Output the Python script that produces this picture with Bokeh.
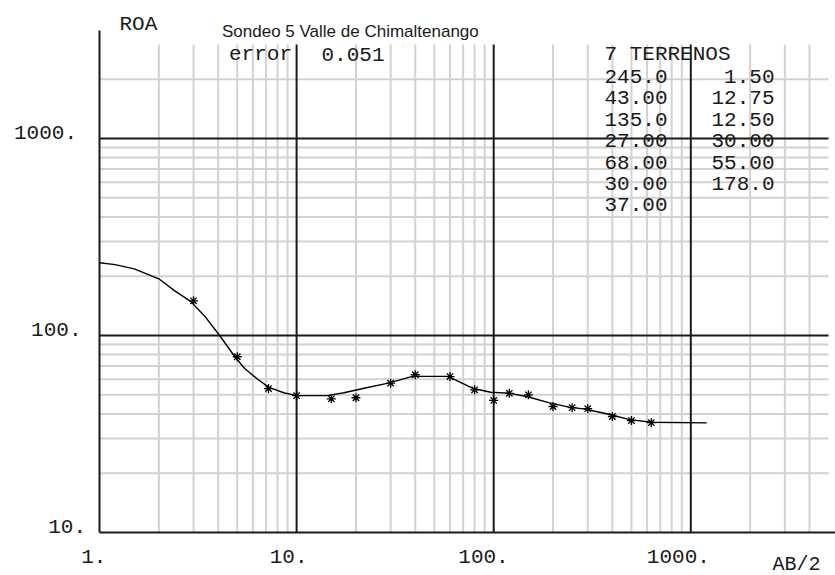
import numpy as np
from bokeh.plotting import figure
from bokeh.models import Range1d, Label
from bokeh.embed import file_html
from bokeh.resources import INLINE

# ---------------- data ----------------
title_text = "Sondeo 5 Valle de Chimaltenango"
x_label = "AB/2"
y_label = "ROA"
error_label = "error"
error_value = "0.051"
layers_title = "7 TERRENOS"
layer_rho = ["245.0", "43.00", "135.0", "27.00", "68.00", "30.00", "37.00"]
layer_thk = ["1.50", "12.75", "12.50", "30.00", "55.00", "178.0"]

x_ticks = [1, 10, 100, 1000]
x_tick_labels = ["1.", "10.", "100.", "1000."]
y_ticks = [10, 100, 1000]
y_tick_labels = ["10.", "100.", "1000."]

# measured apparent resistivity (stars)
obs_ab2 = [3, 5, 7.2, 10, 15, 20, 30, 40, 60, 80, 100, 120, 150, 200, 250, 300, 400, 500, 630]
obs_roa = [150, 78, 53.8, 49.5, 47.7, 48.3, 57.3, 63.2, 61.9, 53, 46.8, 50.9, 50, 43.6, 43, 42.5, 38.8, 37, 36.1]

# model curve
model_ab2 = [1.0, 1.2, 1.5, 2.0, 2.4, 2.9, 3.45, 4.07, 4.86, 5.45, 6.3, 7.2, 8.6, 10, 14.3, 17.4,
             22, 29.2, 38.7, 58.6, 78, 96.6, 119, 147, 192, 241, 291, 336, 393, 483, 627, 1205]
model_roa = [234, 229, 218, 194, 169, 149, 124, 100, 78, 68, 60.3, 54.7, 51.2, 49.5, 49.5, 51.2,
             54, 57.3, 62, 62, 54, 51.5, 51, 49, 45.5, 43.3, 42.3, 41, 39.6, 37.5, 36.3, 36]

# ---------------- layout ----------------
W, H = 835, 575
AX_LEFT, AX_BOTTOM, AX_TOP = 99, 532, 30      # pixel position of the drawn axes
DEC_X, DEC_Y = 197.1, 197.0                     # pixels per decade
# the frame covers the whole canvas so that every text lies inside it
X0 = 10 ** ((0 - AX_LEFT) / DEC_X)
X1 = 10 ** ((W - AX_LEFT) / DEC_X)
Y0 = 10 ** (1 + (AX_BOTTOM - H) / DEC_Y)
Y1 = 10 ** (1 + (AX_BOTTOM - 0) / DEC_Y)
AXIS_XMIN, AXIS_YMIN = 1.0, 10.0
AXIS_YMAX = 10 ** (1 + (AX_BOTTOM - AX_TOP) / DEC_Y)
GRID_XMAX = 5000
GRID_YMAX = 3000

def px2x(px):
    return 10 ** ((px - AX_LEFT) / DEC_X)

def py2y(py):
    return 10 ** (1 + (AX_BOTTOM - py) / DEC_Y)

p = figure(width=W, height=H, x_axis_type="log", y_axis_type="log",
           x_range=Range1d(X0, X1), y_range=Range1d(Y0, Y1),
           x_axis_location=None, y_axis_location=None,
           output_backend="svg", toolbar_location=None,
           min_border=0, outline_line_color=None,
           background_fill_color="white", border_fill_color="white")
p.xgrid.visible = False
p.ygrid.visible = False

GRAY = "#d2d2d2"
INK = "#1a1a1a"

# minor grid lines
vx = [m * 10 ** k for k in range(0, 4) for m in range(2, 10) if m * 10 ** k < GRID_XMAX]
hy = [m * 10 ** k for k in range(1, 4) for m in range(2, 10) if m * 10 ** k < GRID_YMAX]
p.segment(x0=vx, y0=[AXIS_YMIN] * len(vx), x1=vx, y1=[GRID_YMAX] * len(vx), line_color=GRAY, line_width=2)
p.segment(x0=[AXIS_XMIN] * len(hy), y0=hy, x1=[GRID_XMAX] * len(hy), y1=hy, line_color=GRAY, line_width=2)

# major grid lines
mx = x_ticks[1:]
my = y_ticks[1:]
p.segment(x0=mx, y0=[AXIS_YMIN] * len(mx), x1=mx, y1=[GRID_YMAX] * len(mx), line_color=INK, line_width=2)
p.segment(x0=[AXIS_XMIN] * len(my), y0=my, x1=[GRID_XMAX] * len(my), y1=my, line_color=INK, line_width=2)

# axis lines
p.segment(x0=[AXIS_XMIN], y0=[AXIS_YMIN], x1=[AXIS_XMIN], y1=[AXIS_YMAX], line_color=INK, line_width=2)
p.segment(x0=[AXIS_XMIN], y0=[AXIS_YMIN], x1=[X1], y1=[AXIS_YMIN], line_color=INK, line_width=2)

# model curve and observations
p.line(model_ab2, model_roa, line_color="black", line_width=1.4)
p.scatter(obs_ab2, obs_roa, marker="asterisk", size=9, line_color="black", line_width=1.3)

MONO = "Liberation Mono"
MSIZE = "21px"

def add_label(x, y, text, align="left", font=MONO, size=MSIZE, xo=0, yo=0):
    p.add_layout(Label(x=x, y=y, text=text, text_align=align, text_baseline="alphabetic",
                       text_font=font, text_font_size=size, text_color=INK,
                       x_offset=xo, y_offset=yo))

# tick labels
for t, lbl in zip(x_ticks, x_tick_labels):
    add_label(t, AXIS_YMIN, lbl, align="center", xo=-5.7 - 2.25 * (len(lbl) - 2), yo=-24)
for t, lbl in zip(y_ticks, y_tick_labels):
    add_label(AXIS_XMIN, t, lbl, align="right", xo=-13.5 - 4.5 * (len(lbl) - 3), yo=6)

# axis titles and plot title
add_label(px2x(119), py2y(24), y_label)
add_label(px2x(772), py2y(564), x_label, size="20px")
add_label(px2x(221.5), py2y(30.5), title_text, font="Liberation Sans", size="17px")

# error
add_label(px2x(228.5), py2y(54), error_label)
add_label(px2x(321), py2y(54), error_value)

# layer table
add_label(px2x(604), py2y(54), layers_title)
for i, r in enumerate(layer_rho):
    add_label(px2x(604), py2y(76 + 21.4 * i), r)
for i, t in enumerate(layer_thk):
    add_label(px2x(774), py2y(76 + 21.4 * i), t, align="right")

open("out.html", "w").write(file_html(p, INLINE))
